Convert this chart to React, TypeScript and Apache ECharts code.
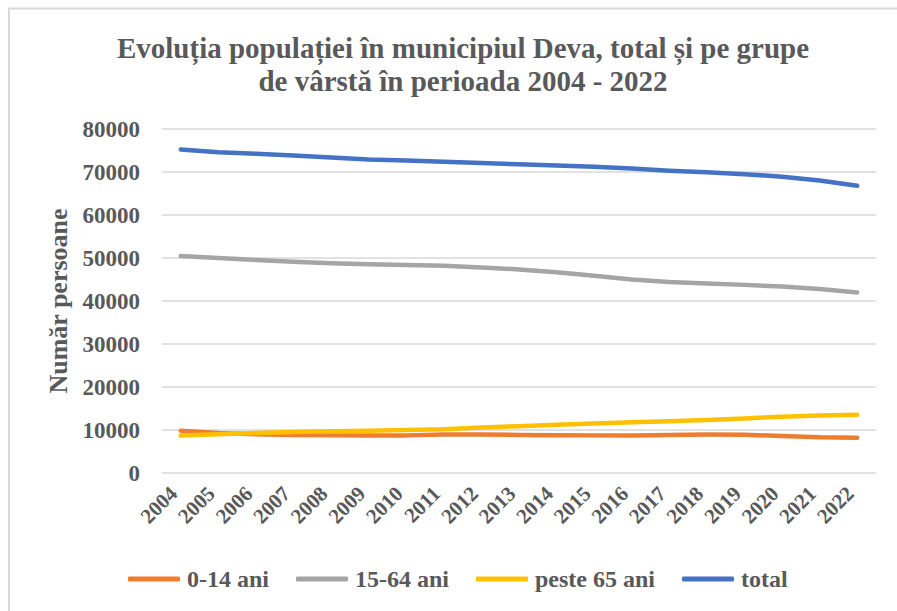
import React, { useEffect, useRef } from "react";
import * as echarts from "echarts";

const years = ["2004","2005","2006","2007","2008","2009","2010","2011","2012","2013","2014","2015","2016","2017","2018","2019","2020","2021","2022"];
const age0_14 = [9850, 9300, 9000, 8850, 8750, 8750, 8750, 8950, 8950, 8850, 8800, 8750, 8750, 8850, 8950, 8900, 8600, 8300, 8200];
const age15_64 = [50450, 50000, 49550, 49100, 48800, 48550, 48350, 48200, 47800, 47350, 46700, 45850, 45000, 44400, 44050, 43750, 43350, 42800, 42000];
const age65plus = [8700, 9000, 9300, 9550, 9700, 9850, 10000, 10150, 10600, 10900, 11200, 11500, 11800, 12050, 12350, 12700, 13100, 13400, 13550];
const total = [75250, 74600, 74250, 73850, 73350, 72900, 72650, 72400, 72100, 71800, 71500, 71200, 70800, 70300, 69950, 69500, 68900, 68000, 66800];
const seriesNames = ["0-14 ani", "15-64 ani", "peste 65 ani", "total"];
const seriesColors = ["#ED7D31", "#A5A5A5", "#FFC000", "#4472C4"];
const seriesData = [age0_14, age15_64, age65plus, total];

const FONT = "Liberation Serif";
const TEXT = "#595959";

export default function App() {
  const ref = useRef<HTMLDivElement>(null);
  useEffect(() => {
    if (!ref.current) return;
    const chart = echarts.init(ref.current, undefined, { renderer: "svg" });
    chart.setOption({
      animation: false,
      backgroundColor: "#ffffff",
      textStyle: { fontFamily: FONT },
      title: {
        text: "Evoluția populației în municipiul Deva, total și pe grupe\nde vârstă în perioada 2004 - 2022",
        left: 458,
        top: 26,
        textAlign: "center",
        textStyle: { fontFamily: FONT, fontSize: 29, fontWeight: "bold", color: TEXT, lineHeight: 33 },
      },
      graphic: [
        {
          type: "rect",
          shape: { x: 9, y: 8.5, width: 1000, height: 1000 },
          style: { fill: "none", stroke: "#D9D9D9", lineWidth: 2 },
          silent: true,
        },
      ],
      grid: { left: 162, right: 21, top: 129, bottom: 138, containLabel: false },
      legend: {
        left: 123,
        top: 562,
        itemWidth: 52,
        itemHeight: 5,
        itemGap: 27,
        icon: "roundRect",
        textStyle: { fontFamily: FONT, fontSize: 24, fontWeight: "bold", color: TEXT, padding: [0, 0, 0, 2] },
        data: seriesNames,
      },
      xAxis: {
        type: "category",
        data: years,
        boundaryGap: true,
        axisLine: { show: false },
        axisTick: { show: false },
        axisLabel: {
          rotate: 45,
          interval: 0,
          margin: 10,
          padding: [0, 10, 0, 0],
          fontFamily: FONT,
          fontSize: 21,
          fontWeight: "bold",
          color: TEXT,
        },
      },
      yAxis: {
        type: "value",
        min: 0,
        max: 80000,
        interval: 10000,
        name: "Număr persoane",
        nameLocation: "middle",
        nameRotate: 90,
        nameGap: 84,
        nameTextStyle: { fontFamily: FONT, fontSize: 26, fontWeight: "bold", color: TEXT },
        axisLine: { show: false },
        axisTick: { show: false },
        axisLabel: {
          margin: 22,
          formatter: (v: number) => String(v),
          fontFamily: FONT,
          fontSize: 23,
          fontWeight: "bold",
          color: TEXT,
        },
        splitLine: { lineStyle: { color: "#D9D9D9", width: 1.5 } },
      },
      series: seriesNames.map((name, i) => ({
        name,
        type: "line",
        data: seriesData[i],
        symbol: "none",
        smooth: false,
        itemStyle: { color: seriesColors[i] },
        lineStyle: { color: seriesColors[i], width: 4.5, cap: "round", join: "round" },
      })),
    });
    return () => chart.dispose();
  }, []);
  return (
    <div
      ref={ref}
      style={{ position: "fixed", left: 0, top: 0, width: 897, height: 611, background: "#fff" }}
    />
  );
}
